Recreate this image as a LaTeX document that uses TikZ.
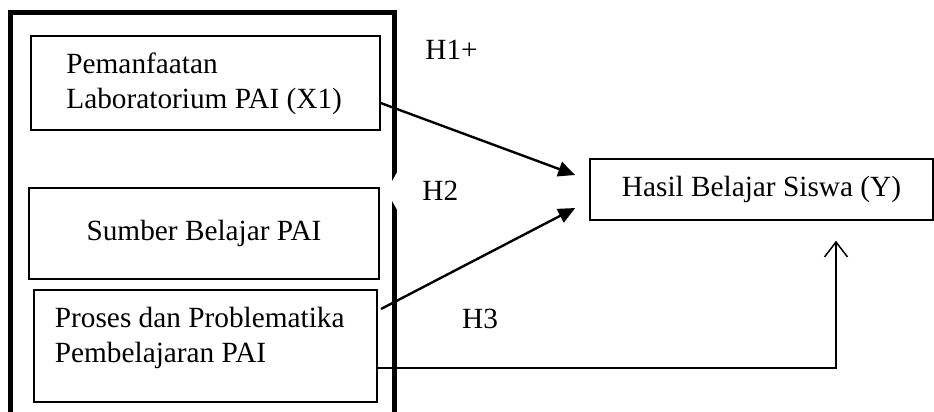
\documentclass[tikz,border=0pt]{standalone}
\usepackage{fontspec}
\setmainfont{Liberation Serif}
\usetikzlibrary{arrows.meta,calc}

\tikzset{
  box/.style={draw, line width=0.7pt, inner sep=0pt, minimum width=174.5pt, minimum height=47pt},
  txt/.style={inner sep=0pt, align=left, font=\fontsize{14.65pt}{17.5pt}\selectfont},
  hyp/.style={inner sep=0pt, anchor=base west, font=\fontsize{14.65pt}{17.5pt}\selectfont},
  solidarrow/.style={line width=1.2pt, -{Triangle[length=8.5pt,width=7.5pt]}},
  openarrow/.style={line width=0.75pt, -{Straight Barb[length=7.5pt,width=11.5pt]}},
  frameline/.style={line width=2.5pt}
}

\begin{document}
\begin{tikzpicture}[x=0.5pt,y=-0.5pt]
\useasboundingbox (0,0) rectangle (934,412);

% thick outer frame around the three independent variables
\draw[frameline] (10.8,412) -- (10.8,12.5) -- (394.5,12.5) -- (394.5,172);
\fill (392,172) -- (397,172) -- (392,181) -- cycle;
\draw[frameline] (394.5,210) -- (394.5,412);
\fill (392,210) -- (397,210) -- (392,201) -- cycle;

% independent variable boxes
\node[box] (b1) at (205.5,83) {};
\node[txt, anchor=west] (t1) at (66,83.7) {Pemanfaatan\\Laboratorium PAI (X1)};

\node[box, minimum width=175pt, minimum height=45.5pt,
      font=\fontsize{14.65pt}{17.5pt}\selectfont] (b2) at (204,233.5) {Sumber Belajar PAI};

\node[box, line width=1pt, minimum width=171.5pt, minimum height=56pt] (b3) at (205.5,346) {};
\node[txt, anchor=west] (t3) at (54.5,337.7) {Proses dan Problematika\\Pembelajaran PAI};

% dependent variable
\node[box, line width=0.75pt, minimum width=171.5pt, minimum height=30.5pt,
      font=\fontsize{14.65pt}{17.5pt}\selectfont] (hy) at (761.5,189.5) {Hasil Belajar Siswa (Y)};

% hypothesis labels
\node[hyp] (h1) at (425,60) {H1+};
\node[hyp] (h2) at (422,200) {H2};
\node[hyp] (h3) at (461.7,328) {H3};

% connectors
\draw[solidarrow] ([yshift=-10pt]b1.east) -- ([xshift=-7pt,yshift=7.25pt]hy.west);
\draw[solidarrow] ([xshift=1.5pt,yshift=-10pt]b3.north east) -- ([xshift=-7pt,yshift=-9.25pt]hy.west);
\draw[openarrow] ([yshift=-11pt]b3.east) -| ([xshift=37.25pt,yshift=-10pt]hy.south);
\end{tikzpicture}
\end{document}
